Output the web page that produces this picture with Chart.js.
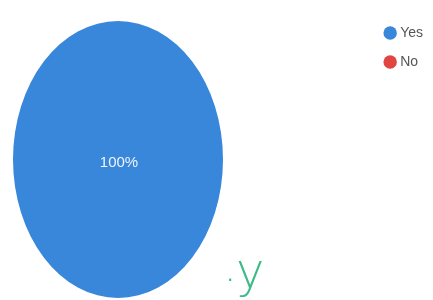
<!DOCTYPE html>
<html>
<head>
<meta charset="utf-8">
<script src="https://cdn.jsdelivr.net/npm/chart.js@4/dist/chart.umd.min.js"></script>
<style>
  html, body { margin: 0; padding: 0; background: #ffffff; }
  #wrap { width: 433px; height: 300px; }
</style>
</head>
<body>
<div id="wrap"><canvas id="c" width="433" height="300"></canvas></div>
<script>
const categories = ['Yes', 'No'];
const responses = [100, 0];
const sliceColors = ['#3987db', '#e0463f'];
const annotationText = ['·', 'y'];

// Draws the pie as the flattened-scan ellipse of the reference
const ellipsePlugin = {
  id: 'ellipse',
  beforeDatasetsDraw(chart) {
    const arc = chart.getDatasetMeta(0).data[0];
    const ctx = chart.ctx;
    ctx.save();
    ctx.translate(118, 159.5);
    ctx.scale(1, 1.319);
    ctx.translate(-arc.x, -arc.y);
  },
  afterDatasetsDraw(chart) {
    const ctx = chart.ctx;
    ctx.restore();
    const data = chart.data.datasets[0].data;
    const total = data.reduce((a, b) => a + b, 0);
    ctx.save();
    ctx.fillStyle = '#eef4fc';
    ctx.font = '15px "Liberation Sans", Arial, sans-serif';
    ctx.textAlign = 'center';
    ctx.textBaseline = 'middle';
    data.forEach((v) => {
      if (v / total === 1) {
        ctx.fillText(Math.round(v / total * 100) + '%', 119, 163);
      }
    });
    ctx.restore();
  },
  afterDraw(chart) {
    const ctx = chart.ctx;
    ctx.save();
    ctx.fillStyle = '#3dba86';
    ctx.textBaseline = 'alphabetic';
    ctx.textAlign = 'left';
    ctx.font = '20px "DejaVu Sans", sans-serif';
    ctx.fillText(annotationText[0], 227, 287);
    ctx.font = '200 48px "DejaVu Sans ExtraLight", "DejaVu Sans", sans-serif';
    ctx.fillText(annotationText[1], 236, 287);
    ctx.restore();
  }
};

new Chart(document.getElementById('c'), {
  type: 'pie',
  data: {
    labels: categories,
    datasets: [{
      data: responses,
      backgroundColor: sliceColors,
      borderWidth: 0,
      radius: 105
    }]
  },
  options: {
    responsive: false,
    animation: false,
    events: [],
    layout: { padding: { top: 11, right: 0, left: 0, bottom: 0 } },
    plugins: {
      tooltip: { enabled: false },
      legend: {
        position: 'right',
        align: 'start',
        labels: {
          usePointStyle: true,
          pointStyle: 'circle',
          boxWidth: 6,
          boxHeight: 9.5,
          padding: 15,
          color: '#555555',
          font: { size: 14, family: '"Liberation Sans", Arial, sans-serif' }
        }
      }
    }
  },
  plugins: [ellipsePlugin]
});
</script>
</body>
</html>
